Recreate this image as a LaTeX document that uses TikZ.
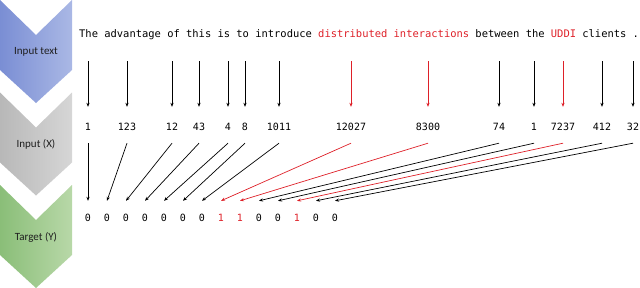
\documentclass[tikz,border=0pt]{standalone}
\usepackage{fontspec}
\setsansfont{Carlito}
\setmonofont{DejaVu Sans Mono}
\usetikzlibrary{arrows.meta}
\definecolor{chevblueL}{RGB}{122,142,212}
\definecolor{chevblueR}{RGB}{170,184,229}
\definecolor{chevgrayL}{RGB}{184,184,184}
\definecolor{chevgrayR}{RGB}{214,214,214}
\definecolor{chevgreenL}{RGB}{138,190,120}
\definecolor{chevgreenR}{RGB}{184,216,168}
\definecolor{tokred}{RGB}{222,32,40}

\begin{document}
\begin{tikzpicture}[
    x=1pt, y=-1pt,
    >={Stealth[length=4pt, width=3.2pt]},
    stage/.style={font=\sffamily\fontsize{11}{13}\selectfont, text=black!88},
    word/.style={font=\ttfamily\fontsize{10.45}{12}\selectfont, inner sep=0pt,
                 text height=7pt, text depth=2pt, anchor=base west, text=#1},
    word/.default=black,
    tok/.style={font=\ttfamily\fontsize{10}{12}\selectfont, inner sep=0pt,
                minimum height=32pt},
    lab/.style={font=\ttfamily\fontsize{10}{12}\selectfont, inner sep=0pt,
                minimum height=34pt, text=#1},
    lab/.default=black,
    arr/.style={->, line width=0.7pt, draw=#1},
    arr/.default=black,
]
    \useasboundingbox (0,0) rectangle (640,287);

    % Stages
    \foreach \y/\c/\t/\n in {0/blue/Input text/stin, 92.5/gray/Input (X)/stx, 185/green/Target (Y)/sty} {
        \shade[left color=chev\c L, right color=chev\c R]
            (0,\y) -- (36,{\y+35}) -- (72,\y) -- (72,{\y+70}) -- (36,{\y+103}) -- (0,{\y+70}) -- cycle;
        \node[stage] (\n) at (36,{\y+52}) {\t};
    }

    % Sentence
    \foreach \s/\w/\c [count=\i] in {0/The/black, 4/advantage/black, 14/of/black, 17/this/black,
            22/is/black, 25/to/black, 28/introduce/black, 38/distributed/tokred,
            50/interactions/tokred, 63/between/black, 71/the/black, 75/UDDI/tokred,
            80/clients/black, 88/./black}
        \node[word=\c] (w\i) at ({79+\s*6.29},37) {\w};

    % Input ids
    \foreach \x/\v/\c [count=\i] in {88/1/black, 127/123/black, 172/12/black, 199/43/black,
            228/4/black, 245/8/black, 279/1011/black, 351/12027/tokred, 428/8300/tokred,
            499/74/black, 534/1/black, 563/7237/tokred, 602/412/black, 633/32/black} {
        \node[tok] (t\i) at (\x,127) {\v};
        \draw[arr=\c, shorten <=22pt, shorten >=4pt] (w\i.south -| t\i.north) -- (t\i.north);
    }

    % Targets
    \foreach \v/\c [count=\i] in {0/black, 0/black, 0/black, 0/black, 0/black, 0/black, 0/black,
            1/tokred, 1/tokred, 0/black, 0/black, 1/tokred, 0/black, 0/black} {
        \node[lab=\c] (d\i) at ({88+(\i-1)*19},218) {\v};
        \draw[arr=\c] (t\i.south) -- (d\i.north);
    }
\end{tikzpicture}
\end{document}
